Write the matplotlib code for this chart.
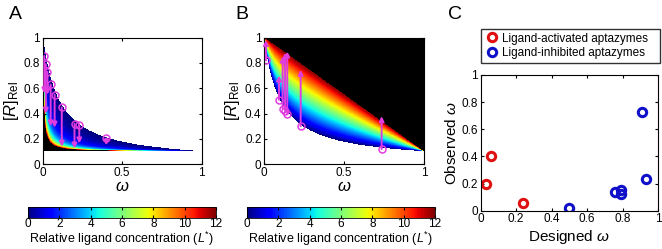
import numpy as np
import matplotlib
matplotlib.use("Agg")
import matplotlib.pyplot as plt
from matplotlib.colors import Normalize
from matplotlib.cm import ScalarMappable

plt.rcParams["font.family"] = ["Liberation Sans", "DejaVu Sans"]
plt.rcParams["mathtext.fontset"] = "custom"
plt.rcParams["mathtext.rm"] = "Liberation Sans"
plt.rcParams["mathtext.it"] = "Liberation Sans:italic"

# ---------------- Data ----------------
# Panel A: ligand-activated aptazymes, arrows from L*=0 to high L*
act_omega = [0.01, 0.02, 0.03, 0.05, 0.075, 0.12, 0.20, 0.23, 0.40]
act_r_start = [0.855, 0.79, 0.73, 0.63, 0.55, 0.45, 0.32, 0.31, 0.205]
act_r_end = [0.56, 0.40, 0.55, 0.30, 0.29, 0.14, 0.125, 0.165, 0.15]

# Panel B: ligand-inhibited aptazymes
inh_omega = [0.01, 0.092, 0.115, 0.13, 0.144, 0.228, 0.735]
inh_r_start = [0.82, 0.51, 0.44, 0.42, 0.40, 0.30, 0.12]
inh_r_end = [0.98, 0.70, 0.85, 0.88, 0.89, 0.745, 0.38]

# Panel C: designed vs observed omega
act_designed = [0.03, 0.06, 0.24]
act_observed = [0.20, 0.40, 0.06]
inh_designed = [0.50, 0.76, 0.79, 0.79, 0.91, 0.93]
inh_observed = [0.02, 0.14, 0.15, 0.12, 0.73, 0.23]

# Model constants for the background maps
R_MIN = 0.1
L_MAX = 12
K_ACT = 2.0

MAGENTA = "#e03ce0"


# ---------------- Model maps ----------------
def ligand_map(kind, n=600):
    w = np.linspace(0, 1, n)[None, :]
    r = np.linspace(0, 1, n)[:, None]
    w = np.clip(w, 1e-6, 1 - 1e-6)
    r0 = R_MIN + (1 - R_MIN) / (1 + 11 * w / (1 - w))   # L* = 0 curve
    with np.errstate(divide="ignore", invalid="ignore"):
        if kind == "act":
            c = (1 - R_MIN) / (r - R_MIN) - 1.0
            ratio = c * (1 - w) / w
            L = (ratio - 11.0) / (10.0 * K_ACT)
        else:
            r_top = 1 - (1 - R_MIN) * w                      # saturating line
            L = L_MAX * (r - r0) / (r_top - r0)
        L = np.where(L < 0, np.nan, L)
        L = np.where(r <= R_MIN, np.nan, L)
        L = np.minimum(L, L_MAX + 1)
    return np.ma.masked_invalid(L)


def draw_panel(ax, kind, omegas, r0, r1):
    cmap = plt.get_cmap("jet").copy()
    cmap.set_over("black")
    cmap.set_bad("white")
    ax.imshow(ligand_map(kind), origin="lower", extent=[0, 1, 0, 1],
              cmap=cmap, vmin=0, vmax=L_MAX, aspect="auto",
              interpolation="nearest")
    for w, a, b in zip(omegas, r0, r1):
        ax.annotate("", xy=(w, b), xytext=(w, a),
                    arrowprops=dict(arrowstyle="-|>", color=MAGENTA, lw=1.4,
                                    mutation_scale=7, shrinkA=0, shrinkB=0))
    ax.plot(omegas, r0, "o", mfc="none", mec=MAGENTA, ms=5, mew=1.1)
    ax.set_xlim(0, 1)
    ax.set_ylim(0, 1)
    ax.set_xticks([0, 0.5, 1])
    ax.set_xticklabels(["0", "0.5", "1"])
    ax.set_yticks([0, 0.2, 0.4, 0.6, 0.8, 1])
    ax.set_yticklabels(["0", "0.2", "0.4", "0.6", "0.8", "1"])
    ax.tick_params(direction="in", top=True, right=True, length=2.5,
                   labelsize=8.5, pad=2)
    ax.set_xlabel(r"$\omega$", fontsize=12, labelpad=0)
    ax.set_ylabel(r"$[R]_{\rm Rel}$", fontsize=12, labelpad=2)


def draw_colorbar(fig, rect):
    cax = fig.add_axes(rect)
    sm = ScalarMappable(norm=Normalize(0, L_MAX), cmap="jet")
    cb = fig.colorbar(sm, cax=cax, orientation="horizontal")
    cb.set_ticks(range(0, 13, 2))
    cax.tick_params(direction="in", top=True, bottom=True, length=2,
                    labelsize=8.5, pad=0)
    cb.outline.set_linewidth(0.6)
    cb.set_label(r"Relative ligand concentration ($L^{*}$)", fontsize=9,
                 labelpad=0)


fig = plt.figure(figsize=(6.62, 2.49), dpi=100)

axA = fig.add_axes([0.0645, 0.340, 0.2402, 0.509])
draw_panel(axA, "act", act_omega, act_r_start, act_r_end)
axB = fig.add_axes([0.3992, 0.340, 0.2412, 0.509])
draw_panel(axB, "inh", inh_omega, inh_r_start, inh_r_end)

draw_colorbar(fig, [0.0423, 0.1245, 0.284, 0.0442])
draw_colorbar(fig, [0.373, 0.1245, 0.284, 0.0442])

axC = fig.add_axes([0.7261, 0.1538, 0.2678, 0.545])
ha = axC.plot(act_designed, act_observed, "o", mfc="none", mec="#e01010",
              ms=6, mew=2.2, label="Ligand-activated aptazymes")[0]
hi = axC.plot(inh_designed, inh_observed, "o", mfc="none", mec="#1010c8",
              ms=6, mew=2.2, label="Ligand-inhibited aptazymes")[0]
axC.set_xlim(0, 1)
axC.set_ylim(0, 1)
axC.set_xticks(np.arange(0, 1.01, 0.2))
axC.set_xticklabels(["0", "0.2", "0.4", "0.6", "0.8", "1"])
axC.set_yticks(np.arange(0, 1.01, 0.2))
axC.set_yticklabels(["0", "0.2", "0.4", "0.6", "0.8", "1"])
axC.tick_params(direction="in", top=True, right=True, length=2.5,
                labelsize=8.5, pad=2)
axC.set_xlabel(r"Designed $\omega$", fontsize=11, labelpad=2)
axC.set_ylabel(r"Observed $\omega$", fontsize=11, labelpad=2)
fig.legend(handles=[ha, hi], loc="lower left",
           bbox_to_anchor=(0.7266, 0.747, 0.27, 0.125), mode="expand",
           fontsize=8.5, frameon=True, fancybox=False, edgecolor="black",
           handletextpad=0.3, handlelength=1.2, borderpad=0.3,
           labelspacing=0.25, borderaxespad=0)

fig.text(0.013, 0.94, "A", fontsize=14, va="center")
fig.text(0.356, 0.94, "B", fontsize=14, va="center")
fig.text(0.677, 0.94, "C", fontsize=14, va="center")

fig.savefig("out.png", dpi=100)
